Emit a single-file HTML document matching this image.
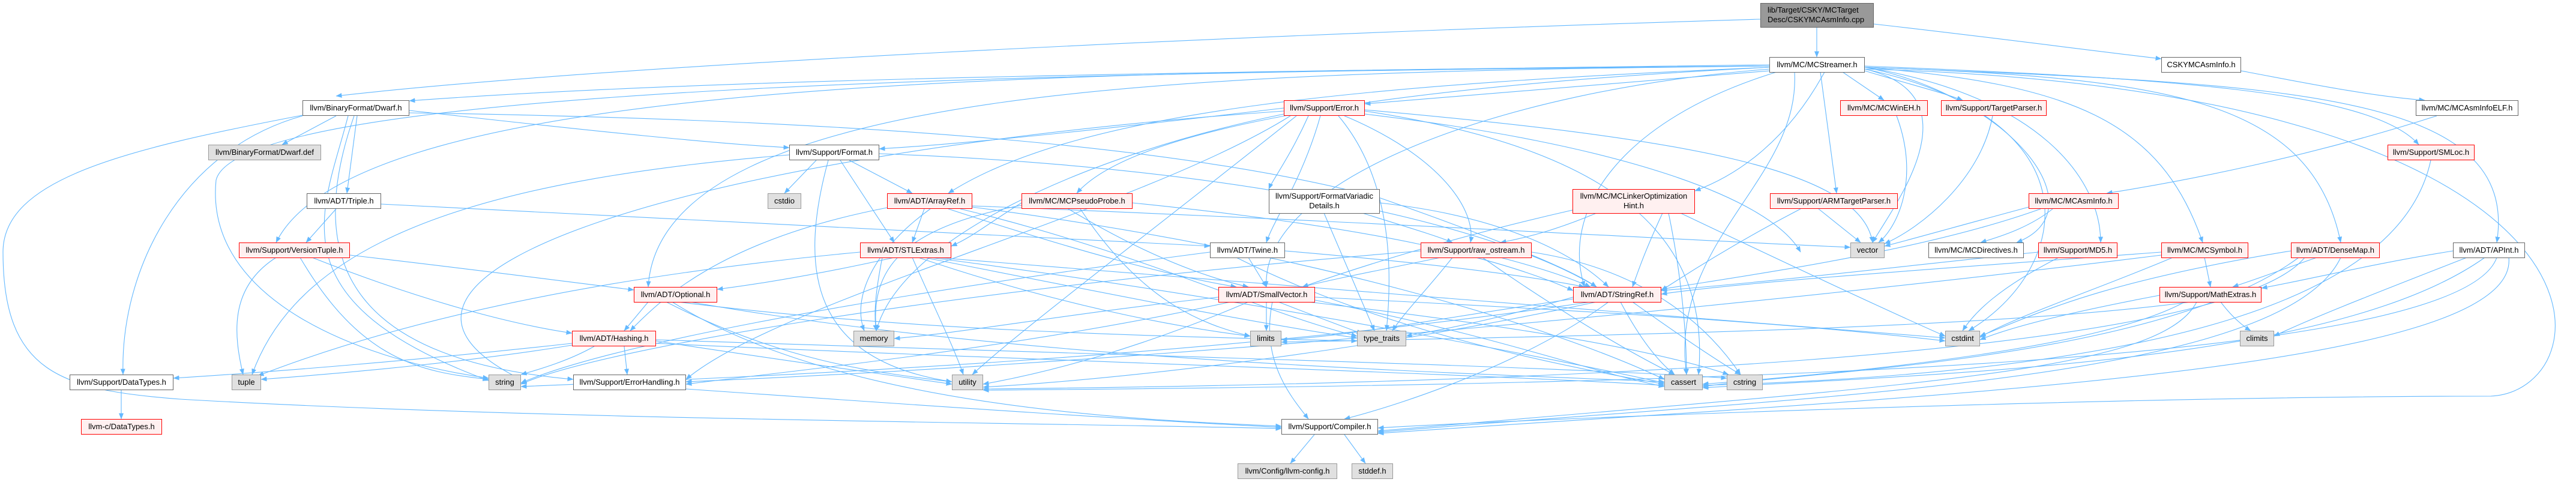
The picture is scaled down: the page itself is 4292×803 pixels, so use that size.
<!DOCTYPE html>
<html><head><meta charset="utf-8"><style>
html,body{margin:0;padding:0;background:#fff}
body{width:4292px;height:803px;position:relative;overflow:hidden;font-family:"Liberation Sans",Arial,sans-serif}
.n{position:absolute;box-sizing:border-box;border:1px solid #666;background:#fff;font-size:13px;color:#000;text-align:center;height:26px;line-height:24px;white-space:nowrap}
.r{border-color:#f00;background:#fff0f0}
.g{border-color:#999;background:#e0e0e0}
.m{background:#999;border-color:#666}
.t{height:41px;line-height:16px;padding-top:3px}
svg{position:absolute;left:0;top:0}
path{fill:none;stroke:#63b8ff;stroke-width:1.1}
</style></head><body>
<svg width="4292" height="803" viewBox="0 0 4292 803">
<defs><marker id="a" markerWidth="10" markerHeight="8" refX="9.5" refY="4" orient="auto" markerUnits="userSpaceOnUse"><path d="M0,0 L10,4 L0,8z" style="fill:#63b8ff;stroke:none"/></marker></defs>
<g marker-end="url(#a)">
<path d="M3027 46 L3027 95"/>
<path d="M3122 40 C3300 60 3450 80 3601 98"/>
<path d="M2933 32 C2000 60 1000 110 560 160"/>
<path d="M3734 118 C3850 140 3950 160 4040 167"/>
<path d="M4060 193 C3850 260 3650 300 3510 322"/>
<path d="M2949 108 C2000 120 1200 130 682 168"/>
<path d="M2960 117 C2700 140 2450 160 2274 173"/>
<path d="M3070 120 L3139 167"/>
<path d="M3107 118 C3180 140 3240 155 3270 167"/>
<path d="M3107 110 C3600 130 3950 150 4030 241"/>
<path d="M3040 120 C2980 230 2900 290 2824 318"/>
<path d="M3033 120 L3060 322"/>
<path d="M3107 112 C3800 140 4200 150 4160 404"/>
<path d="M3107 112 C3600 130 3850 160 3900 404"/>
<path d="M3107 112 C3450 140 3600 200 3670 404"/>
<path d="M3107 112 C3400 160 3500 300 3500 404"/>
<path d="M3107 112 C3350 160 3500 350 3360 404"/>
<path d="M2949 112 C2400 140 1900 200 1794 322"/>
<path d="M2949 112 C2300 140 1800 180 1580 322"/>
<path d="M2949 110 C2000 120 1100 140 1080 478"/>
<path d="M2949 110 C1800 120 600 120 460 404"/>
<path d="M2949 110 C1800 120 400 140 360 300 C340 500 600 600 814 630"/>
<path d="M2949 115 C2500 150 2100 300 2110 478"/>
<path d="M2960 120 C2700 200 2600 350 2640 478"/>
<path d="M2990 120 C3000 300 2780 400 2810 624"/>
<path d="M3107 115 C3300 160 3150 350 3120 404"/>
<path d="M3107 115 C3500 200 3450 450 3280 551"/>
<path d="M3107 115 C4400 150 4350 650 4150 660 C3500 660 2500 700 2296 713"/>
<path d="M560 193 L470 241"/>
<path d="M595 193 L578 322"/>
<path d="M682 184 C1000 220 1200 240 1315 246"/>
<path d="M682 188 C1500 200 2000 250 2300 330 C2500 400 2620 450 2660 478"/>
<path d="M504 193 C300 250 200 450 205 624"/>
<path d="M504 192 C200 250 5 300 5 420 C5 620 100 650 300 665 C900 700 1800 705 2135 714"/>
<path d="M580 193 C540 350 450 500 814 634"/>
<path d="M590 193 C500 450 600 600 955 632"/>
<path d="M560 348 L510 404"/>
<path d="M635 340 C1200 370 1700 390 2016 410"/>
<path d="M460 429 C380 480 390 560 405 624"/>
<path d="M500 429 C600 600 700 620 814 632"/>
<path d="M520 429 C700 500 850 540 953 555"/>
<path d="M583 425 C800 450 950 470 1056 483"/>
<path d="M1360 267 L1307 322"/>
<path d="M1380 267 C1330 450 1350 600 1586 636"/>
<path d="M1400 267 L1490 404"/>
<path d="M1415 267 L1520 322"/>
<path d="M1465 256 C2100 280 2500 380 2660 478"/>
<path d="M1315 258 C800 300 500 400 420 624"/>
<path d="M1540 348 L1520 404"/>
<path d="M1580 348 C1800 420 1950 460 2060 478"/>
<path d="M1550 348 C1450 420 1420 500 1440 551"/>
<path d="M1478 346 C1200 400 1100 500 1050 551"/>
<path d="M1600 348 C1900 420 2100 520 2261 560"/>
<path d="M1620 343 C2300 370 2800 400 3083 412"/>
<path d="M1620 345 C2200 420 2600 550 2773 632"/>
<path d="M1702 338 C1650 370 1620 395 1585 410"/>
<path d="M1780 348 C1900 420 2000 460 2080 478"/>
<path d="M1887 338 C2300 380 2500 430 2621 484"/>
<path d="M1702 342 C1500 380 1450 450 1460 551"/>
<path d="M1800 348 C1900 500 2000 540 2083 560"/>
<path d="M1490 429 C1350 460 1250 475 1195 482"/>
<path d="M1470 429 C1460 480 1455 520 1460 551"/>
<path d="M1520 429 C1560 520 1590 580 1605 624"/>
<path d="M1530 429 C1800 520 2000 550 2083 560"/>
<path d="M1540 429 C1900 500 2100 540 2261 563"/>
<path d="M1550 429 C2100 500 2600 600 2773 638"/>
<path d="M1433 420 C900 470 600 560 430 626"/>
<path d="M1560 429 C2400 500 3000 540 3241 563"/>
<path d="M2080 429 L2110 478"/>
<path d="M2141 418 C2400 440 2550 460 2640 478"/>
<path d="M2060 429 C2300 550 2600 610 2773 640"/>
<path d="M2016 420 C1400 500 1000 580 868 638"/>
<path d="M2206 355 L2290 551"/>
<path d="M2270 355 C2350 380 2400 395 2420 404"/>
<path d="M2299 338 C2500 360 2620 420 2680 478"/>
<path d="M2139 180 C1800 220 1600 240 1465 248"/>
<path d="M2180 193 C2150 260 2120 300 2114 315"/>
<path d="M2200 193 C2170 300 2120 370 2110 404"/>
<path d="M2240 193 C2400 260 2460 350 2450 404"/>
<path d="M2230 193 C2320 300 2320 450 2310 551"/>
<path d="M2274 185 C2700 250 2850 400 2830 624"/>
<path d="M2274 183 C2800 230 3100 280 3120 404"/>
<path d="M2274 190 C2700 240 2950 330 3000 420"/>
<path d="M2139 190 C1800 260 1500 400 1460 551"/>
<path d="M2150 193 C1900 350 1300 500 1143 632"/>
<path d="M2160 193 C1900 400 1700 550 1620 624"/>
<path d="M2139 185 C1200 250 500 450 868 632"/>
<path d="M2660 355 C2600 380 2550 395 2500 404"/>
<path d="M2620 350 C2400 400 2250 450 2170 478"/>
<path d="M2770 355 C2740 420 2730 450 2720 478"/>
<path d="M2780 355 C2800 450 2810 550 2810 624"/>
<path d="M2800 355 C3000 450 3150 520 3241 560"/>
<path d="M2500 429 C2580 450 2620 465 2650 478"/>
<path d="M2420 429 C2380 480 2340 520 2320 551"/>
<path d="M2470 429 C2600 520 2720 590 2790 624"/>
<path d="M2552 420 C2750 450 2850 550 2900 624"/>
<path d="M2400 429 C2300 450 2220 465 2170 478"/>
<path d="M2367 418 C1600 480 1000 580 868 640"/>
<path d="M3030 348 L3100 404"/>
<path d="M3000 348 C2900 400 2820 450 2768 484"/>
<path d="M2110 503 L2110 551"/>
<path d="M2130 503 C2200 530 2240 545 2270 556"/>
<path d="M2030 495 C1800 520 1600 555 1490 564"/>
<path d="M2050 503 C1700 580 1300 620 1143 640"/>
<path d="M2080 503 C1900 580 1750 620 1638 640"/>
<path d="M2120 503 C2100 600 2150 660 2180 698"/>
<path d="M2191 500 C2500 560 2650 620 2773 644"/>
<path d="M2180 503 C2500 540 2750 580 2880 624"/>
<path d="M2191 495 C2700 520 3000 540 3241 568"/>
<path d="M2621 495 C2500 530 2400 550 2343 560"/>
<path d="M2621 498 C2400 530 2250 560 2135 566"/>
<path d="M2700 503 C2730 560 2760 600 2790 624"/>
<path d="M2720 503 C2800 560 2860 600 2900 624"/>
<path d="M2650 503 C2000 600 1200 630 868 644"/>
<path d="M2660 503 C2300 580 1900 630 1638 645"/>
<path d="M2680 503 C2550 600 2350 670 2240 698"/>
<path d="M3598 492 C3450 520 3350 545 3299 566"/>
<path d="M3640 503 C3500 580 3100 620 2837 640"/>
<path d="M3700 503 C3720 530 3740 545 3750 551"/>
<path d="M3650 503 C3300 550 2600 560 2135 570"/>
<path d="M3660 503 C3600 620 3200 640 2296 718"/>
<path d="M3860 429 C3800 450 3760 465 3720 478"/>
<path d="M3817 418 C3500 470 3400 520 3299 560"/>
<path d="M3830 429 C3600 600 3000 620 2837 644"/>
<path d="M3840 429 C3700 600 2500 640 1638 648"/>
<path d="M3900 429 C3800 640 3000 660 2296 720"/>
<path d="M4087 418 C3950 440 3850 465 3768 480"/>
<path d="M4110 429 C3980 480 3850 530 3789 560"/>
<path d="M4140 429 C3900 600 3300 620 2837 646"/>
<path d="M4160 429 C4100 600 3000 640 1638 650"/>
<path d="M4180 429 C4200 620 3200 660 2296 722"/>
<path d="M3673 429 L3683 478"/>
<path d="M3601 420 C3200 450 2900 470 2768 490"/>
<path d="M3620 429 C3500 480 3350 530 3299 562"/>
<path d="M3601 425 C3000 500 2000 600 1143 636"/>
<path d="M3430 429 C3330 480 3290 520 3270 551"/>
<path d="M3396 420 C3200 440 2950 470 2768 484"/>
<path d="M3420 348 C3380 380 3330 395 3300 404"/>
<path d="M3380 345 C3250 380 3180 400 3140 410"/>
<path d="M3400 348 C3200 420 2900 460 2768 482"/>
<path d="M3160 193 C3200 300 3160 380 3130 404"/>
<path d="M3320 193 C3300 300 3200 380 3140 406"/>
<path d="M4050 267 C4000 500 3600 620 2837 642"/>
<path d="M1080 503 L1040 551"/>
<path d="M1110 503 C1300 600 1450 620 1586 636"/>
<path d="M1130 503 C1500 550 1900 560 2261 568"/>
<path d="M1150 503 C1700 600 2400 620 2773 636"/>
<path d="M1120 503 C1400 680 1900 700 2135 710"/>
<path d="M1040 577 L1045 624"/>
<path d="M953 572 C700 600 450 620 289 630"/>
<path d="M953 575 C800 600 600 620 435 632"/>
<path d="M990 577 C950 600 900 615 868 624"/>
<path d="M1093 568 C1300 600 1450 620 1586 640"/>
<path d="M1093 572 C1700 600 2400 620 2773 642"/>
<path d="M1093 566 C1800 590 2600 610 2877 630"/>
<path d="M1143 648 C1600 680 1900 700 2135 712"/>
<path d="M202 650 L202 698"/>
<path d="M2190 724 L2150 772"/>
<path d="M2240 724 L2275 772"/>
</g></svg>

<div class="n m t" style="left:2933px;top:5px;width:189px;text-align:left;padding-left:11px">lib/Target/CSKY/MCTarget<br>Desc/CSKYMCAsmInfo.cpp</div>
<div class="n" style="left:2948px;top:95px;width:159px">llvm/MC/MCStreamer.h</div>
<div class="n" style="left:3601px;top:95px;width:133px">CSKYMCAsmInfo.h</div>
<div class="n" style="left:504px;top:167px;width:178px">llvm/BinaryFormat/Dwarf.h</div>
<div class="n r" style="left:2139px;top:167px;width:135px">llvm/Support/Error.h</div>
<div class="n r" style="left:3066px;top:167px;width:146px">llvm/MC/MCWinEH.h</div>
<div class="n r" style="left:3234px;top:167px;width:176px">llvm/Support/TargetParser.h</div>
<div class="n" style="left:4025px;top:167px;width:171px">llvm/MC/MCAsmInfoELF.h</div>
<div class="n g" style="left:347px;top:241px;width:188px">llvm/BinaryFormat/Dwarf.def</div>
<div class="n" style="left:1315px;top:241px;width:150px">llvm/Support/Format.h</div>
<div class="n r" style="left:3978px;top:241px;width:145px">llvm/Support/SMLoc.h</div>
<div class="n" style="left:511px;top:322px;width:124px">llvm/ADT/Triple.h</div>
<div class="n g" style="left:1279px;top:322px;width:56px">cstdio</div>
<div class="n r" style="left:1478px;top:322px;width:142px">llvm/ADT/ArrayRef.h</div>
<div class="n r" style="left:1702px;top:322px;width:185px">llvm/MC/MCPseudoProbe.h</div>
<div class="n t" style="left:2114px;top:315px;width:185px">llvm/Support/FormatVariadic<br>Details.h</div>
<div class="n r t" style="left:2620px;top:315px;width:204px">llvm/MC/MCLinkerOptimization<br>Hint.h</div>
<div class="n r" style="left:2949px;top:322px;width:213px">llvm/Support/ARMTargetParser.h</div>
<div class="n r" style="left:3380px;top:322px;width:150px">llvm/MC/MCAsmInfo.h</div>
<div class="n r" style="left:398px;top:404px;width:185px">llvm/Support/VersionTuple.h</div>
<div class="n r" style="left:1433px;top:404px;width:152px">llvm/ADT/STLExtras.h</div>
<div class="n" style="left:2016px;top:404px;width:125px">llvm/ADT/Twine.h</div>
<div class="n r" style="left:2367px;top:404px;width:185px">llvm/Support/raw_ostream.h</div>
<div class="n g" style="left:3083px;top:404px;width:57px">vector</div>
<div class="n" style="left:3213px;top:404px;width:159px">llvm/MC/MCDirectives.h</div>
<div class="n r" style="left:3396px;top:404px;width:132px">llvm/Support/MD5.h</div>
<div class="n r" style="left:3601px;top:404px;width:145px">llvm/MC/MCSymbol.h</div>
<div class="n r" style="left:3817px;top:404px;width:148px">llvm/ADT/DenseMap.h</div>
<div class="n" style="left:4087px;top:404px;width:120px">llvm/ADT/APInt.h</div>
<div class="n r" style="left:1056px;top:478px;width:139px">llvm/ADT/Optional.h</div>
<div class="n r" style="left:2030px;top:478px;width:161px">llvm/ADT/SmallVector.h</div>
<div class="n r" style="left:2621px;top:478px;width:147px">llvm/ADT/StringRef.h</div>
<div class="n r" style="left:3598px;top:478px;width:170px">llvm/Support/MathExtras.h</div>
<div class="n r" style="left:953px;top:551px;width:140px">llvm/ADT/Hashing.h</div>
<div class="n g" style="left:1422px;top:551px;width:68px">memory</div>
<div class="n g" style="left:2083px;top:551px;width:52px">limits</div>
<div class="n g" style="left:2261px;top:551px;width:82px">type_traits</div>
<div class="n g" style="left:3241px;top:551px;width:58px">cstdint</div>
<div class="n g" style="left:3732px;top:551px;width:57px">climits</div>
<div class="n" style="left:116px;top:624px;width:173px">llvm/Support/DataTypes.h</div>
<div class="n g" style="left:386px;top:624px;width:49px">tuple</div>
<div class="n g" style="left:814px;top:624px;width:54px">string</div>
<div class="n" style="left:955px;top:624px;width:188px">llvm/Support/ErrorHandling.h</div>
<div class="n g" style="left:1586px;top:624px;width:52px">utility</div>
<div class="n g" style="left:2773px;top:624px;width:64px">cassert</div>
<div class="n g" style="left:2877px;top:624px;width:60px">cstring</div>
<div class="n r" style="left:135px;top:698px;width:135px">llvm-c/DataTypes.h</div>
<div class="n" style="left:2135px;top:698px;width:161px">llvm/Support/Compiler.h</div>
<div class="n g" style="left:2062px;top:772px;width:166px">llvm/Config/llvm-config.h</div>
<div class="n g" style="left:2252px;top:772px;width:69px">stddef.h</div>
</body></html>
